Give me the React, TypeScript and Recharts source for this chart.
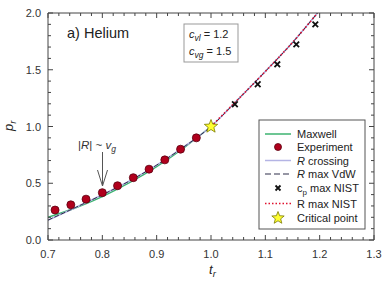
import React from 'react';
import { ComposedChart, Line, Scatter, XAxis, YAxis, Customized } from 'recharts';

const maxwellT = [0.7, 0.75, 0.8, 0.85, 0.9, 0.95, 1.0];
const maxwellP = [0.2, 0.282, 0.383, 0.505, 0.647, 0.812, 1.0];
const crossingT = [0.7, 0.75, 0.8, 0.85, 0.9, 0.95, 1.0, 1.05, 1.1, 1.15, 1.196];
const crossingP = [0.175, 0.285, 0.398, 0.52, 0.66, 0.82, 1.0, 1.24, 1.485, 1.74, 2.0];
const vdwT = [0.7, 0.75, 0.8, 0.85, 0.9, 0.95, 1.0, 1.05, 1.1, 1.15, 1.196];
const vdwP = [0.175, 0.285, 0.398, 0.52, 0.66, 0.82, 1.0, 1.24, 1.485, 1.74, 2.0];
const nistT = [1.0, 1.05, 1.1, 1.15, 1.196];
const nistP = [1.0, 1.24, 1.485, 1.74, 2.0];
const expT = [0.713, 0.742, 0.77, 0.8, 0.828, 0.857, 0.886, 0.915, 0.944, 0.973];
const expP = [0.264, 0.31, 0.36, 0.417, 0.478, 0.549, 0.624, 0.706, 0.8, 0.9];
const cpT = [1.044, 1.086, 1.122, 1.157, 1.192];
const cpP = [1.196, 1.372, 1.548, 1.724, 1.9];
const critT = [1.0];
const critP = [1.0];

const xMajor = [0.7, 0.8, 0.9, 1.0, 1.1, 1.2, 1.3];
const xAll = [0.7, 0.72, 0.74, 0.76, 0.78, 0.8, 0.82, 0.84, 0.86, 0.88, 0.9, 0.92, 0.94, 0.96, 0.98, 1.0, 1.02, 1.04, 1.06, 1.08, 1.1, 1.12, 1.14, 1.16, 1.18, 1.2, 1.22, 1.24, 1.26, 1.28, 1.3];
const yMajor = [0, 0.5, 1.0, 1.5, 2.0];
const yAll = [0, 0.1, 0.2, 0.3, 0.4, 0.5, 0.6, 0.7, 0.8, 0.9, 1.0, 1.1, 1.2, 1.3, 1.4, 1.5, 1.6, 1.7, 1.8, 1.9, 2.0];

const legendNames = ['Maxwell', 'Experiment', 'R crossing', 'R max VdW', 'cp max NIST', 'R max NIST', 'Critical point'];

const zip = (t: number[], p: number[]) => t.map((v, i) => ({ t: v, p: p[i] }));

const maxwellData = zip(maxwellT, maxwellP);
const crossingData = zip(crossingT, crossingP);
const vdwData = zip(vdwT, vdwP);
const nistData = zip(nistT, nistP);
const expData = zip(expT, expP);
const cpData = zip(cpT, cpP);
const critData = zip(critT, critP);

const FONT = '"Liberation Sans", Arial, sans-serif';
const AX = '#444';

const C_MAX = '#3cb371';
const C_EXP = '#b0001c';
const C_CROSS = '#b4b4e4';
const C_VDW = '#2e2e4a';
const C_NIST = '#e0102e';

const isXMajor = (v: number) => Math.abs(v * 10 - Math.round(v * 10)) < 1e-6;
const isYMajor = (v: number) => Math.abs(v * 2 - Math.round(v * 2)) < 1e-6;
const MAJ = 5;
const MIN = 3;

const BottomTick = (p: any) => {
  const v = p.payload.value;
  const maj = isXMajor(v);
  return (
    <g>
      <line x1={p.x} x2={p.x} y1={p.y} y2={p.y - (maj ? MAJ : MIN)} stroke={AX} strokeWidth={1} />
      {maj && (
        <text x={p.x} y={p.y + 18} textAnchor="middle" fontSize={11} fill="#333" fontFamily={FONT}>{v.toFixed(1)}</text>
      )}
    </g>
  );
};
const TopTick = (p: any) => {
  const l = isXMajor(p.payload.value) ? MAJ : MIN;
  return <line x1={p.x} x2={p.x} y1={p.y} y2={p.y + l} stroke={AX} strokeWidth={1} />;
};
const LeftTick = (p: any) => {
  const v = p.payload.value;
  const maj = isYMajor(v);
  return (
    <g>
      <line x1={p.x} x2={p.x + (maj ? MAJ : MIN)} y1={p.y} y2={p.y} stroke={AX} strokeWidth={1} />
      {maj && (
        <text x={p.x - 7} y={p.y + 4} textAnchor="end" fontSize={11} fill="#333" fontFamily={FONT}>{v.toFixed(1)}</text>
      )}
    </g>
  );
};
const RightTick = (p: any) => {
  const l = isYMajor(p.payload.value) ? MAJ : MIN;
  return <line x1={p.x} x2={p.x - l} y1={p.y} y2={p.y} stroke={AX} strokeWidth={1} />;
};

const DotShape = (props: any) => (
  <circle cx={props.cx} cy={props.cy} r={4} fill={C_EXP} stroke="#5c0010" strokeWidth={0.8} />
);
const XShape = (props: any) => {
  const { cx, cy } = props;
  const s = 2.8;
  return (
    <path d={`M${cx - s},${cy - s}L${cx + s},${cy + s}M${cx - s},${cy + s}L${cx + s},${cy - s}`} stroke="#111" strokeWidth={1.8} fill="none" />
  );
};
const NoShape = () => <g />;
const starPath = (cx: number, cy: number, ro: number, ri: number) => {
  let d = '';
  for (let i = 0; i < 10; i++) {
    const r = i % 2 === 0 ? ro : ri;
    const a = -Math.PI / 2 + (i * Math.PI) / 5;
    d += (i === 0 ? 'M' : 'L') + (cx + r * Math.cos(a)).toFixed(2) + ',' + (cy + r * Math.sin(a)).toFixed(2);
  }
  return d + 'Z';
};
const StarShape = (props: any) => (
  <path d={starPath(props.cx, props.cy, 7, 3)} fill="#ffff30" stroke="#7a7a00" strokeWidth={0.8} />
);

const Overlay = () => {
  const rows = [134, 147, 160.5, 174, 188, 203.5, 218];
  const lx1 = 265, lx2 = 291, sx = 278, tx = 297;
  const fs = 11;
  return (
    <g fontFamily={FONT}>
      <text x={67} y={38} fontSize={14.5} fill="#222">a) Helium</text>
      <rect x={184} y={24} width={54} height={38} fill="#fff" stroke="#999" strokeWidth={1} />
      <text x={189} y={38} fontSize={11} fill="#222">
        <tspan fontStyle="italic">c</tspan>
        <tspan fontStyle="italic" fontSize={8.5} dy={3}>vl</tspan>
        <tspan dy={-3}> = 1.2</tspan>
      </text>
      <text x={189} y={55} fontSize={11} fill="#222">
        <tspan fontStyle="italic">c</tspan>
        <tspan fontStyle="italic" fontSize={8.5} dy={3}>vg</tspan>
        <tspan dy={-3}> = 1.5</tspan>
      </text>
      <text x={78} y={149} fontSize={11.5} fill="#333">
        |<tspan fontStyle="italic">R</tspan>| ~ <tspan fontStyle="italic">v</tspan>
        <tspan fontStyle="italic" fontSize={8.5} dy={3}>g</tspan>
      </text>
      <line x1={102.5} y1={152} x2={102.5} y2={186} stroke="#555" strokeWidth={1} />
      <path d="M97.5,170 L102.5,186 L107.5,170" fill="none" stroke="#555" strokeWidth={1} />
      <text x={209} y={274} fontSize={13} fill="#222" fontStyle="italic">
        t<tspan fontSize={9.5} dy={3}>r</tspan>
      </text>
      <text x={0} y={0} transform="translate(13,131) rotate(-90)" fontSize={13} fill="#222" fontStyle="italic">
        p<tspan fontSize={9.5} dy={3}>r</tspan>
      </text>
      <rect x={259} y={120} width={106} height={109} fill="#fff" stroke="#555" strokeWidth={1} />
      <line x1={lx1} y1={rows[0]} x2={lx2} y2={rows[0]} stroke={C_MAX} strokeWidth={1.5} />
      <circle cx={sx} cy={rows[1]} r={3.5} fill={C_EXP} stroke="#5c0010" strokeWidth={0.8} />
      <line x1={lx1} y1={rows[2]} x2={lx2} y2={rows[2]} stroke={C_CROSS} strokeWidth={1.5} />
      <line x1={lx1} y1={rows[3]} x2={lx2} y2={rows[3]} stroke={C_VDW} strokeWidth={1.2} strokeDasharray="6 3" />
      <path d={`M${sx - 2.5},${rows[4] - 2.5}L${sx + 2.5},${rows[4] + 2.5}M${sx - 2.5},${rows[4] + 2.5}L${sx + 2.5},${rows[4] - 2.5}`} stroke="#111" strokeWidth={1.8} />
      <line x1={lx1} y1={rows[5]} x2={lx2} y2={rows[5]} stroke={C_NIST} strokeWidth={1.5} strokeDasharray="1.5 2" />
      <path d={starPath(sx, rows[6], 6.5, 2.8)} fill="#ffff30" stroke="#7a7a00" strokeWidth={0.8} />
      {legendNames.map((n, i) => {
        const y = rows[i] + 4;
        if (i === 2 || i === 3) {
          return (
            <text key={n} x={tx} y={y} fontSize={fs} fill="#222">
              <tspan fontStyle="italic">R</tspan>{n.slice(1)}
            </text>
          );
        }
        if (i === 4) {
          return (
            <text key={n} x={tx} y={y} fontSize={fs} fill="#222">
              c<tspan fontSize={8} dy={3}>p</tspan><tspan dy={-3}> max NIST</tspan>
            </text>
          );
        }
        return (
          <text key={n} x={tx} y={y} fontSize={fs} fill="#222">{n}</text>
        );
      })}
    </g>
  );
};

export default function App() {
  return (
    <div style={{ position: 'absolute', left: 0, top: 0, width: 388, height: 282, background: '#fff' }}>
      <ComposedChart width={388} height={282} margin={{ top: 12, right: 13, bottom: 12, left: 8 }}>
        <XAxis dataKey="t" type="number" domain={[0.7, 1.3]} allowDataOverflow ticks={xAll} interval={0} height={30} tickSize={0} tickMargin={0} tickLine={false} tick={<BottomTick />} axisLine={{ stroke: AX }} />
        <XAxis xAxisId="xt" dataKey="t" orientation="top" type="number" domain={[0.7, 1.3]} allowDataOverflow ticks={xAll} interval={0} height={1} tickSize={0} tickMargin={0} tickLine={false} tick={<TopTick />} axisLine={{ stroke: AX }} />
        <YAxis dataKey="p" type="number" domain={[0, 2]} allowDataOverflow ticks={yAll} interval={0} width={40} tickSize={0} tickMargin={0} tickLine={false} tick={<LeftTick />} axisLine={{ stroke: AX }} />
        <YAxis yAxisId="yr" dataKey="p" orientation="right" type="number" domain={[0, 2]} allowDataOverflow ticks={yAll} interval={0} width={1} tickSize={0} tickMargin={0} tickLine={false} tick={<RightTick />} axisLine={{ stroke: AX }} />
        <Scatter data={critData} dataKey="p" xAxisId="xt" yAxisId="yr" shape={NoShape} isAnimationActive={false} legendType="none" />
        <Line data={maxwellData} dataKey="p" type="monotone" stroke={C_MAX} strokeWidth={1.4} dot={false} isAnimationActive={false} />
        <Line data={crossingData} dataKey="p" type="monotone" stroke={C_CROSS} strokeWidth={1.6} dot={false} isAnimationActive={false} />
        <Line data={vdwData} dataKey="p" type="monotone" stroke={C_VDW} strokeWidth={1} strokeDasharray="5 2" dot={false} isAnimationActive={false} />
        <Line data={nistData} dataKey="p" type="monotone" stroke={C_NIST} strokeWidth={1.6} strokeDasharray="1.5 2.2" dot={false} isAnimationActive={false} />
        <Scatter data={expData} dataKey="p" shape={DotShape} isAnimationActive={false} />
        <Scatter data={cpData} dataKey="p" shape={XShape} isAnimationActive={false} />
        <Scatter data={critData} dataKey="p" shape={StarShape} isAnimationActive={false} />
        <Customized component={Overlay} />
      </ComposedChart>
    </div>
  );
}
